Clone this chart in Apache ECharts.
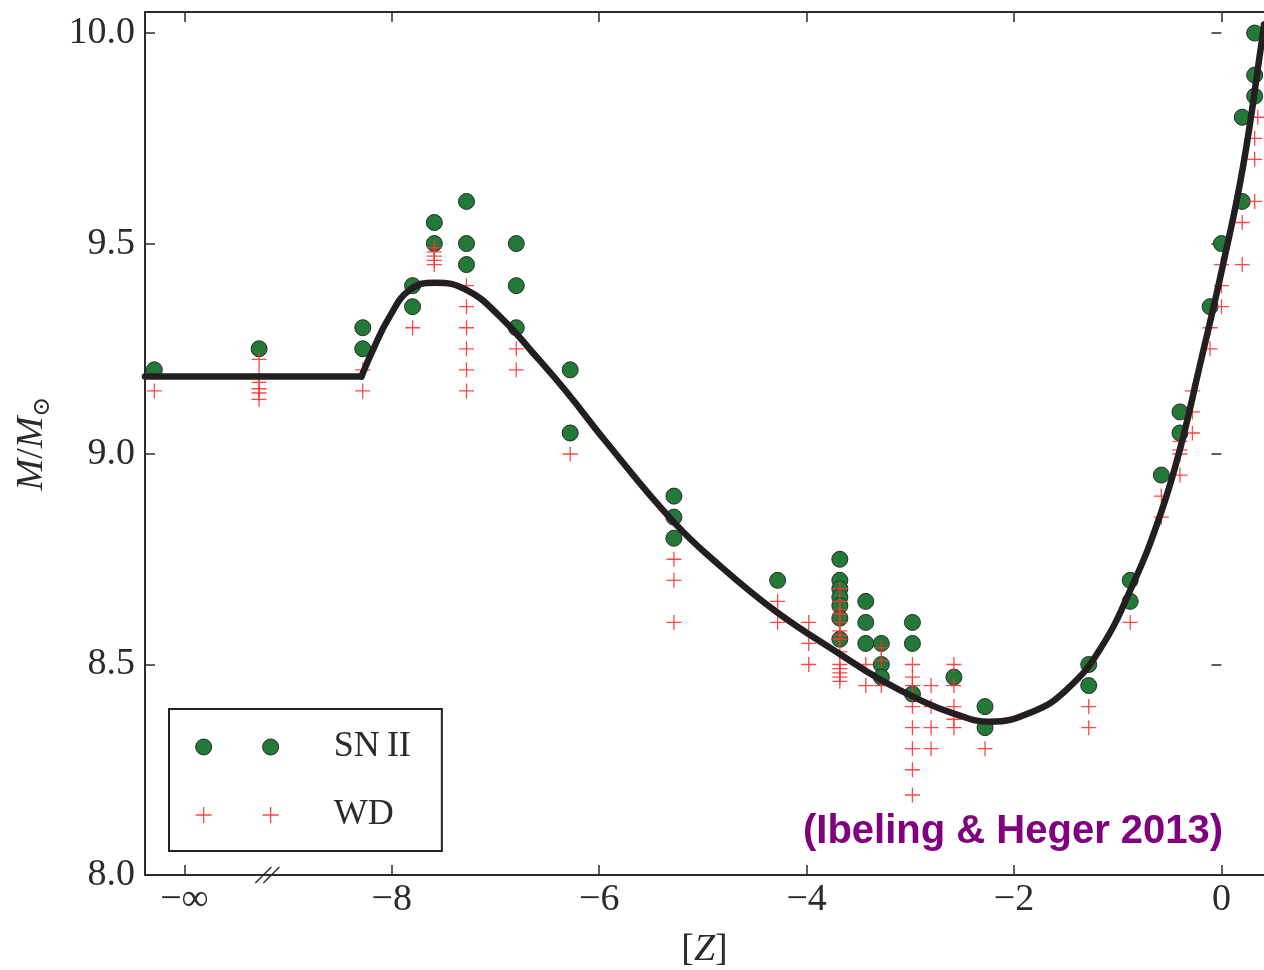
<!DOCTYPE html>
<html><head><meta charset="utf-8">
<script src="https://cdn.jsdelivr.net/npm/echarts@6/dist/echarts.min.js"></script>
<style>html,body{margin:0;padding:0;background:#fff}#c{width:1264px;height:970px}</style>
</head><body><div id="c"></div>
<script>
// ---- data ----
const snII = [
  [-10.29, 9.20],
  [-9.28, 9.25],
  [-8.28, 9.30], [-8.28, 9.25],
  [-7.80, 9.40], [-7.80, 9.35],
  [-7.59, 9.55], [-7.59, 9.50],
  [-7.28, 9.60], [-7.28, 9.50], [-7.28, 9.45],
  [-6.80, 9.50], [-6.80, 9.40], [-6.80, 9.30],
  [-6.28, 9.20], [-6.28, 9.05],
  [-5.28, 8.90], [-5.28, 8.85], [-5.28, 8.80],
  [-4.28, 8.70],
  [-3.68, 8.75], [-3.68, 8.70], [-3.68, 8.68], [-3.68, 8.66], [-3.68, 8.64], [-3.68, 8.61], [-3.68, 8.56],
  [-3.43, 8.65], [-3.43, 8.60], [-3.43, 8.55],
  [-3.28, 8.55], [-3.28, 8.50], [-3.28, 8.47],
  [-2.98, 8.60], [-2.98, 8.55], [-2.98, 8.43],
  [-2.58, 8.47],
  [-2.28, 8.40], [-2.28, 8.35],
  [-1.28, 8.50], [-1.28, 8.45],
  [-0.88, 8.70], [-0.88, 8.65],
  [-0.58, 8.95],
  [-0.40, 9.10], [-0.40, 9.05],
  [-0.11, 9.35],
  [0.00, 9.50],
  [0.20, 9.80], [0.20, 9.60],
  [0.32, 10.00], [0.32, 9.90], [0.32, 9.85]
];
const wd = [
  [-10.29, 9.15],
  [-9.28, 9.225], [-9.28, 9.19], [-9.28, 9.17], [-9.28, 9.155], [-9.28, 9.145], [-9.28, 9.13],
  [-8.28, 9.20], [-8.28, 9.15],
  [-7.80, 9.30],
  [-7.59, 9.49], [-7.59, 9.48], [-7.59, 9.47], [-7.59, 9.46], [-7.59, 9.45],
  [-7.28, 9.40], [-7.28, 9.35], [-7.28, 9.30], [-7.28, 9.25], [-7.28, 9.20], [-7.28, 9.15],
  [-6.80, 9.25], [-6.80, 9.20],
  [-6.28, 9.00],
  [-5.28, 8.75], [-5.28, 8.70], [-5.28, 8.60],
  [-4.28, 8.65], [-4.28, 8.60],
  [-3.98, 8.60], [-3.98, 8.55], [-3.98, 8.50],
  [-3.68, 8.68], [-3.68, 8.65], [-3.68, 8.63], [-3.68, 8.62], [-3.68, 8.60], [-3.68, 8.58], [-3.68, 8.57],
  [-3.68, 8.56], [-3.68, 8.53], [-3.68, 8.50], [-3.68, 8.49], [-3.68, 8.48], [-3.68, 8.47], [-3.68, 8.46],
  [-3.43, 8.50], [-3.43, 8.45],
  [-3.28, 8.54], [-3.28, 8.51], [-3.28, 8.45],
  [-2.98, 8.50], [-2.98, 8.47], [-2.98, 8.45], [-2.98, 8.40], [-2.98, 8.35], [-2.98, 8.30], [-2.98, 8.25], [-2.98, 8.19],
  [-2.80, 8.45], [-2.80, 8.40], [-2.80, 8.35], [-2.80, 8.30],
  [-2.58, 8.50], [-2.58, 8.45], [-2.58, 8.40], [-2.58, 8.37], [-2.58, 8.35],
  [-2.28, 8.30],
  [-1.28, 8.40], [-1.28, 8.35],
  [-0.88, 8.60],
  [-0.58, 8.90], [-0.58, 8.85],
  [-0.40, 9.03], [-0.40, 9.01], [-0.40, 9.00], [-0.40, 8.95],
  [-0.28, 9.15], [-0.28, 9.10], [-0.28, 9.05],
  [-0.11, 9.30], [-0.11, 9.25],
  [0.00, 9.45], [0.00, 9.40], [0.00, 9.35],
  [0.20, 9.55], [0.20, 9.45],
  [0.32, 9.75], [0.32, 9.70], [0.32, 9.60],
  [0.35, 9.80]
];
const plateauZ = [-10.38, -8.293];
const plateauM = [9.184, 9.184];
const curveZ = [-8.293, -8.181, -8.020, -7.827, -7.586, -7.281, -6.959, -6.638, -6.316, -5.931, -5.288,
  -4.838, -4.291, -3.681, -3.295, -2.909, -2.588, -2.234, -1.820, -1.495, -1.174, -0.855, -0.595, -0.402,
  -0.209, 0.015, 0.208, 0.386, 0.41];
const curveM = [9.184, 9.248, 9.327, 9.390, 9.407, 9.390, 9.327, 9.240, 9.148, 9.028, 8.840,
  8.735, 8.625, 8.525, 8.465, 8.416, 8.384, 8.364, 8.388, 8.440, 8.535, 8.690, 8.852, 9.010,
  9.210, 9.450, 9.683, 9.976, 10.02];
const xTickValues = [-10, -8, -6, -4, -2, 0];
const xTickLabels = ['\u2212\u221e', '\u22128', '\u22126', '\u22124', '\u22122', '0'];
const yTickValues = [8.0, 8.5, 9.0, 9.5, 10.0];
const breakZ = -9.20;
const sourceNote = '(Ibeling & Heger 2013)';

// ---- chart ----
const serif = '"Liberation Serif", "DejaVu Serif", serif';
const ink = '#2b2b2b';
const chart = echarts.init(document.getElementById('c'), null, {renderer: 'canvas'});

function pairs(xs, ys) { return xs.map((x, i) => [x, ys[i]]); }

const xBase = {
  type: 'value', min: -10.38, max: 0.41,
  splitLine: {show: false},
  axisLine: {show: true, onZero: false, lineStyle: {color: ink, width: 2}},
  axisTick: {show: true, inside: true, length: 10, customValues: xTickValues, lineStyle: {color: ink, width: 1.5}}
};
const yBase = {
  type: 'value', min: 8.0, max: 10.05,
  splitLine: {show: false},
  axisLine: {show: true, onZero: false, lineStyle: {color: ink, width: 2}},
  axisTick: {show: true, inside: true, length: 10, customValues: yTickValues, lineStyle: {color: ink, width: 1.5}}
};

const option = {
  animation: false,
  backgroundColor: '#ffffff',
  grid: {left: 145, right: 0, top: 12, bottom: 95, containLabel: false, outerBoundsMode: 'none'},
  xAxis: [
    Object.assign({}, xBase, {
      position: 'bottom',
      axisLabel: {show: true, customValues: xTickValues, margin: 6,
        formatter: v => xTickLabels[xTickValues.indexOf(v)] || '',
        fontFamily: serif, fontSize: 38, color: ink},
      name: '{b|[}{i|Z}{b|]}', nameLocation: 'middle', nameGap: 56,
      nameTextStyle: {rich: {
        b: {fontFamily: serif, fontSize: 38, color: ink},
        i: {fontFamily: serif, fontSize: 38, fontStyle: 'italic', color: ink}
      }}
    }),
    Object.assign({}, xBase, {position: 'top', axisLabel: {show: false}})
  ],
  yAxis: [
    Object.assign({}, yBase, {
      position: 'left',
      axisLabel: {show: true, customValues: yTickValues, margin: 10,
        formatter: v => v.toFixed(1), fontFamily: serif, fontSize: 38, color: ink},
      name: '{i|M}{r|/}{i|M}{s|\u2299}', nameLocation: 'middle', nameGap: 90, nameRotate: 90,
      nameTextStyle: {rich: {
        i: {fontFamily: serif, fontSize: 38, fontStyle: 'italic', color: ink},
        r: {fontFamily: serif, fontSize: 38, color: ink},
        s: {fontFamily: '"DejaVu Serif", serif', fontSize: 24, color: ink, padding: [22, 0, 0, 0]}
      }}
    }),
    Object.assign({}, yBase, {position: 'right', axisLine: {show: false}, axisLabel: {show: false}})
  ],
  legend: {
    orient: 'vertical', left: 169, top: 709,
    padding: [18, 31, 16, 26],
    itemWidth: 83, itemHeight: 16, itemGap: 28,
    borderColor: '#222', borderWidth: 2, borderRadius: 0, backgroundColor: '#ffffff',
    selectedMode: false,
    textStyle: {fontFamily: serif, fontSize: 36, color: ink, lineHeight: 40, padding: [0, 0, 0, 50]},
    data: [
      {name: 'SN\u2009II', icon: 'path://M0,8A8,8,0,1,1,16,8A8,8,0,1,1,0,8ZM67,8A8,8,0,1,1,83,8A8,8,0,1,1,67,8Z',
        itemStyle: {color: '#237a38', borderColor: '#2a2a2a', borderWidth: 1}},
      {name: 'WD', icon: 'path://M0,8H16M8,0V16M67,8H83M75,0V16',
        itemStyle: {color: 'rgba(0,0,0,0)', borderColor: '#ff3333', borderWidth: 1.3}}
    ]
  },
  series: [
    {
      name: 'SN\u2009II', type: 'scatter', data: snII, symbol: 'circle', symbolSize: 16, z: 2,
      itemStyle: {color: '#237a38', borderColor: '#2a2a2a', borderWidth: 1, opacity: 1}
    },
    {
      name: 'WD', type: 'scatter', data: wd, symbol: 'path://M0,8H16M8,0V16', symbolSize: 15, z: 3,
      itemStyle: {color: 'rgba(0,0,0,0)', borderColor: '#ff3333', borderWidth: 1.3, opacity: 0.9}
    },
    {
      name: 'plateau', type: 'line', data: pairs(plateauZ, plateauM), showSymbol: false, z: 4,
      lineStyle: {color: '#231f20', width: 6.5, cap: 'round'}
    },
    {
      name: 'fit', type: 'line', data: pairs(curveZ, curveM), showSymbol: false, smooth: 0.45, z: 4,
      lineStyle: {color: '#231f20', width: 6.5, cap: 'round', join: 'round'}
    }
  ]
};
chart.setOption(option);

const p = chart.convertToPixel({xAxisIndex: 0, yAxisIndex: 0}, [breakZ, 8.0]);
chart.setOption({
  graphic: [
    {type: 'line', shape: {x1: p[0] - 12, y1: p[1] + 8, x2: p[0] + 4, y2: p[1] - 8},
      style: {stroke: ink, lineWidth: 1.5}, z: 100},
    {type: 'line', shape: {x1: p[0] - 4, y1: p[1] + 8, x2: p[0] + 12, y2: p[1] - 8},
      style: {stroke: ink, lineWidth: 1.5}, z: 100},
    {type: 'text', x: 803, y: 832, z: 100,
      style: {text: sourceNote, fill: '#800080', font: 'bold 40px "Liberation Sans", Arial, sans-serif',
        textAlign: 'left', textVerticalAlign: 'middle'}}
  ]
});
</script>
</body></html>
